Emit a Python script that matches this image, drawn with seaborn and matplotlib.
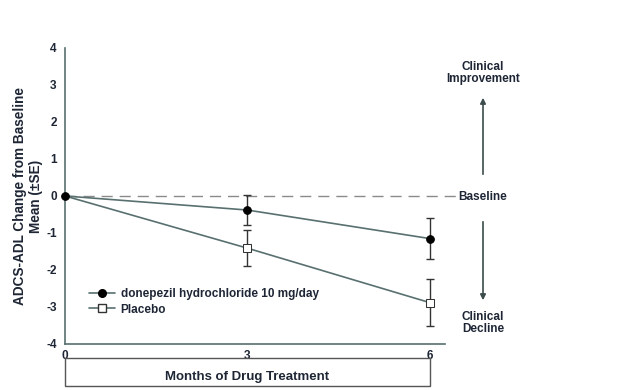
import numpy as np
import pandas as pd
import matplotlib
matplotlib.use('Agg')
import matplotlib.pyplot as plt
import seaborn as sns
from matplotlib.patches import Rectangle
from matplotlib.lines import Line2D

months = [0, 3, 6]
donepezil_mean = [0.0, -0.38, -1.15]
donepezil_se = [0.0, 0.41, 0.55]
placebo_mean = [0.0, -1.41, -2.88]
placebo_se = [0.0, 0.48, 0.64]
y_ticks = [-4, -3, -2, -1, 0, 1, 2, 3, 4]
x_ticks = [0, 3, 6]

line_col = '#58706f'
text_col = '#1e2635'

sns.set_theme(style='white')
plt.rcParams['font.family'] = ['Liberation Sans', 'DejaVu Sans']
plt.rcParams['font.weight'] = 'bold'
plt.rcParams['axes.unicode_minus'] = False

df = pd.concat([
    pd.DataFrame({'Month': months, 'Change': placebo_mean, 'Group': 'Placebo'}),
    pd.DataFrame({'Month': months, 'Change': donepezil_mean,
                  'Group': 'donepezil hydrochloride 10 mg/day'}),
])

fig = plt.figure(figsize=(6.38, 3.90), dpi=100)
ax = fig.add_axes([0.102, 0.118, 0.596, 0.759])

ax.axhline(0, xmin=0, xmax=1.03, color='#8a8a8a', lw=1, ls=(0, (8, 5)),
           clip_on=False, zorder=1)

sns.lineplot(data=df, x='Month', y='Change', hue='Group', style='Group',
             hue_order=['Placebo', 'donepezil hydrochloride 10 mg/day'],
             palette=[line_col, line_col], dashes=False,
             markers={'donepezil hydrochloride 10 mg/day': 'o', 'Placebo': 's'},
             markersize=5.5, lw=1.2, ax=ax, legend=False)
lines = ax.lines[1:]
for ln in lines:
    ln.set_clip_on(False)
# lines[0] = placebo, lines[1] = donepezil (drawn on top)
lines[0].set_markerfacecolor('white')
lines[0].set_markeredgecolor('#333333')
lines[0].set_markersize(5.5)
lines[0].set_markevery([1, 2])  # shared baseline point shows the circle
lines[0].set_zorder(3)
lines[1].set_markerfacecolor('black')
lines[1].set_markeredgecolor('black')
lines[1].set_zorder(4)

ax.errorbar(months[1:], donepezil_mean[1:], yerr=donepezil_se[1:], fmt='none',
            ecolor='#333333', elinewidth=1, capsize=3, zorder=2)
ax.errorbar(months[1:], placebo_mean[1:], yerr=placebo_se[1:], fmt='none',
            ecolor='#333333', elinewidth=1, capsize=3, zorder=2)

ax.set_xlim(0, 6.26)
ax.set_ylim(-4, 4)
ax.set_xticks(x_ticks)
ax.set_yticks(y_ticks)
ax.tick_params(axis='y', direction='out', length=4, width=1, color=line_col,
               labelsize=8.5, labelcolor=text_col, pad=2)
ax.tick_params(axis='x', direction='inout', length=6, width=1, color=line_col,
               labelsize=8.5, labelcolor=text_col, pad=1)
for lab in ax.get_xticklabels() + ax.get_yticklabels():
    lab.set_fontweight('bold')
for s in ['top', 'right']:
    ax.spines[s].set_visible(False)
for s in ['left', 'bottom']:
    ax.spines[s].set_color(line_col)
    ax.spines[s].set_linewidth(1.2)

ax.set_xlabel('')
ax.set_ylabel('ADCS-ADL Change from Baseline\nMean (\u00b1SE)', fontsize=9.8,
              fontweight='bold', color=text_col)
ax.yaxis.set_label_coords(-0.058, 0.5)

h1 = Line2D([], [], color=line_col, marker='o', markerfacecolor='black',
            markeredgecolor='black', markersize=5.5, lw=1.2)
h2 = Line2D([], [], color=line_col, marker='s', markerfacecolor='white',
            markeredgecolor='#333333', markersize=5.5, lw=1.2)
leg = ax.legend([h1, h2], ['donepezil hydrochloride 10 mg/day', 'Placebo'],
                loc='lower left', bbox_to_anchor=(0.05, 0.08), frameon=False,
                prop={'size': 8.5, 'weight': 'bold'}, handlelength=2.2,
                handletextpad=0.5, labelspacing=0.3, borderaxespad=0)
for t in leg.get_texts():
    t.set_color(text_col)

# right-side annotations
fig.text(483 / 638, 1 - 197 / 390, 'Baseline', ha='center', va='center',
         fontsize=8.5, fontweight='bold', color=text_col)
fig.text(483 / 638, 1 - 73 / 390, 'Clinical\nImprovement', ha='center',
         va='center', fontsize=8.5, fontweight='bold', color=text_col,
         linespacing=1.1)
fig.text(483 / 638, 1 - 323 / 390, 'Clinical\nDecline', ha='center',
         va='center', fontsize=8.5, fontweight='bold', color=text_col,
         linespacing=1.1)
arrow_kw = dict(arrowstyle='-|>', color='#3c4c4c', lw=1.2, mutation_scale=8)
ax.annotate('', xy=(483 / 638, 1 - 95 / 390), xytext=(483 / 638, 1 - 177 / 390),
            xycoords='figure fraction', textcoords='figure fraction',
            arrowprops=arrow_kw)
ax.annotate('', xy=(483 / 638, 1 - 303 / 390), xytext=(483 / 638, 1 - 219 / 390),
            xycoords='figure fraction', textcoords='figure fraction',
            arrowprops=arrow_kw)

# boxed x-axis title
fig.patches.append(Rectangle((65 / 638, 1 - 386 / 390), 365 / 638, 28 / 390,
                             transform=fig.transFigure, fill=False,
                             edgecolor='#555555', lw=1))
fig.text(247 / 638, 1 - 377 / 390, 'Months of Drug Treatment', ha='center',
         va='center', fontsize=9.5, fontweight='bold', color=text_col)

fig.savefig('out.png', dpi=100, facecolor='white')
